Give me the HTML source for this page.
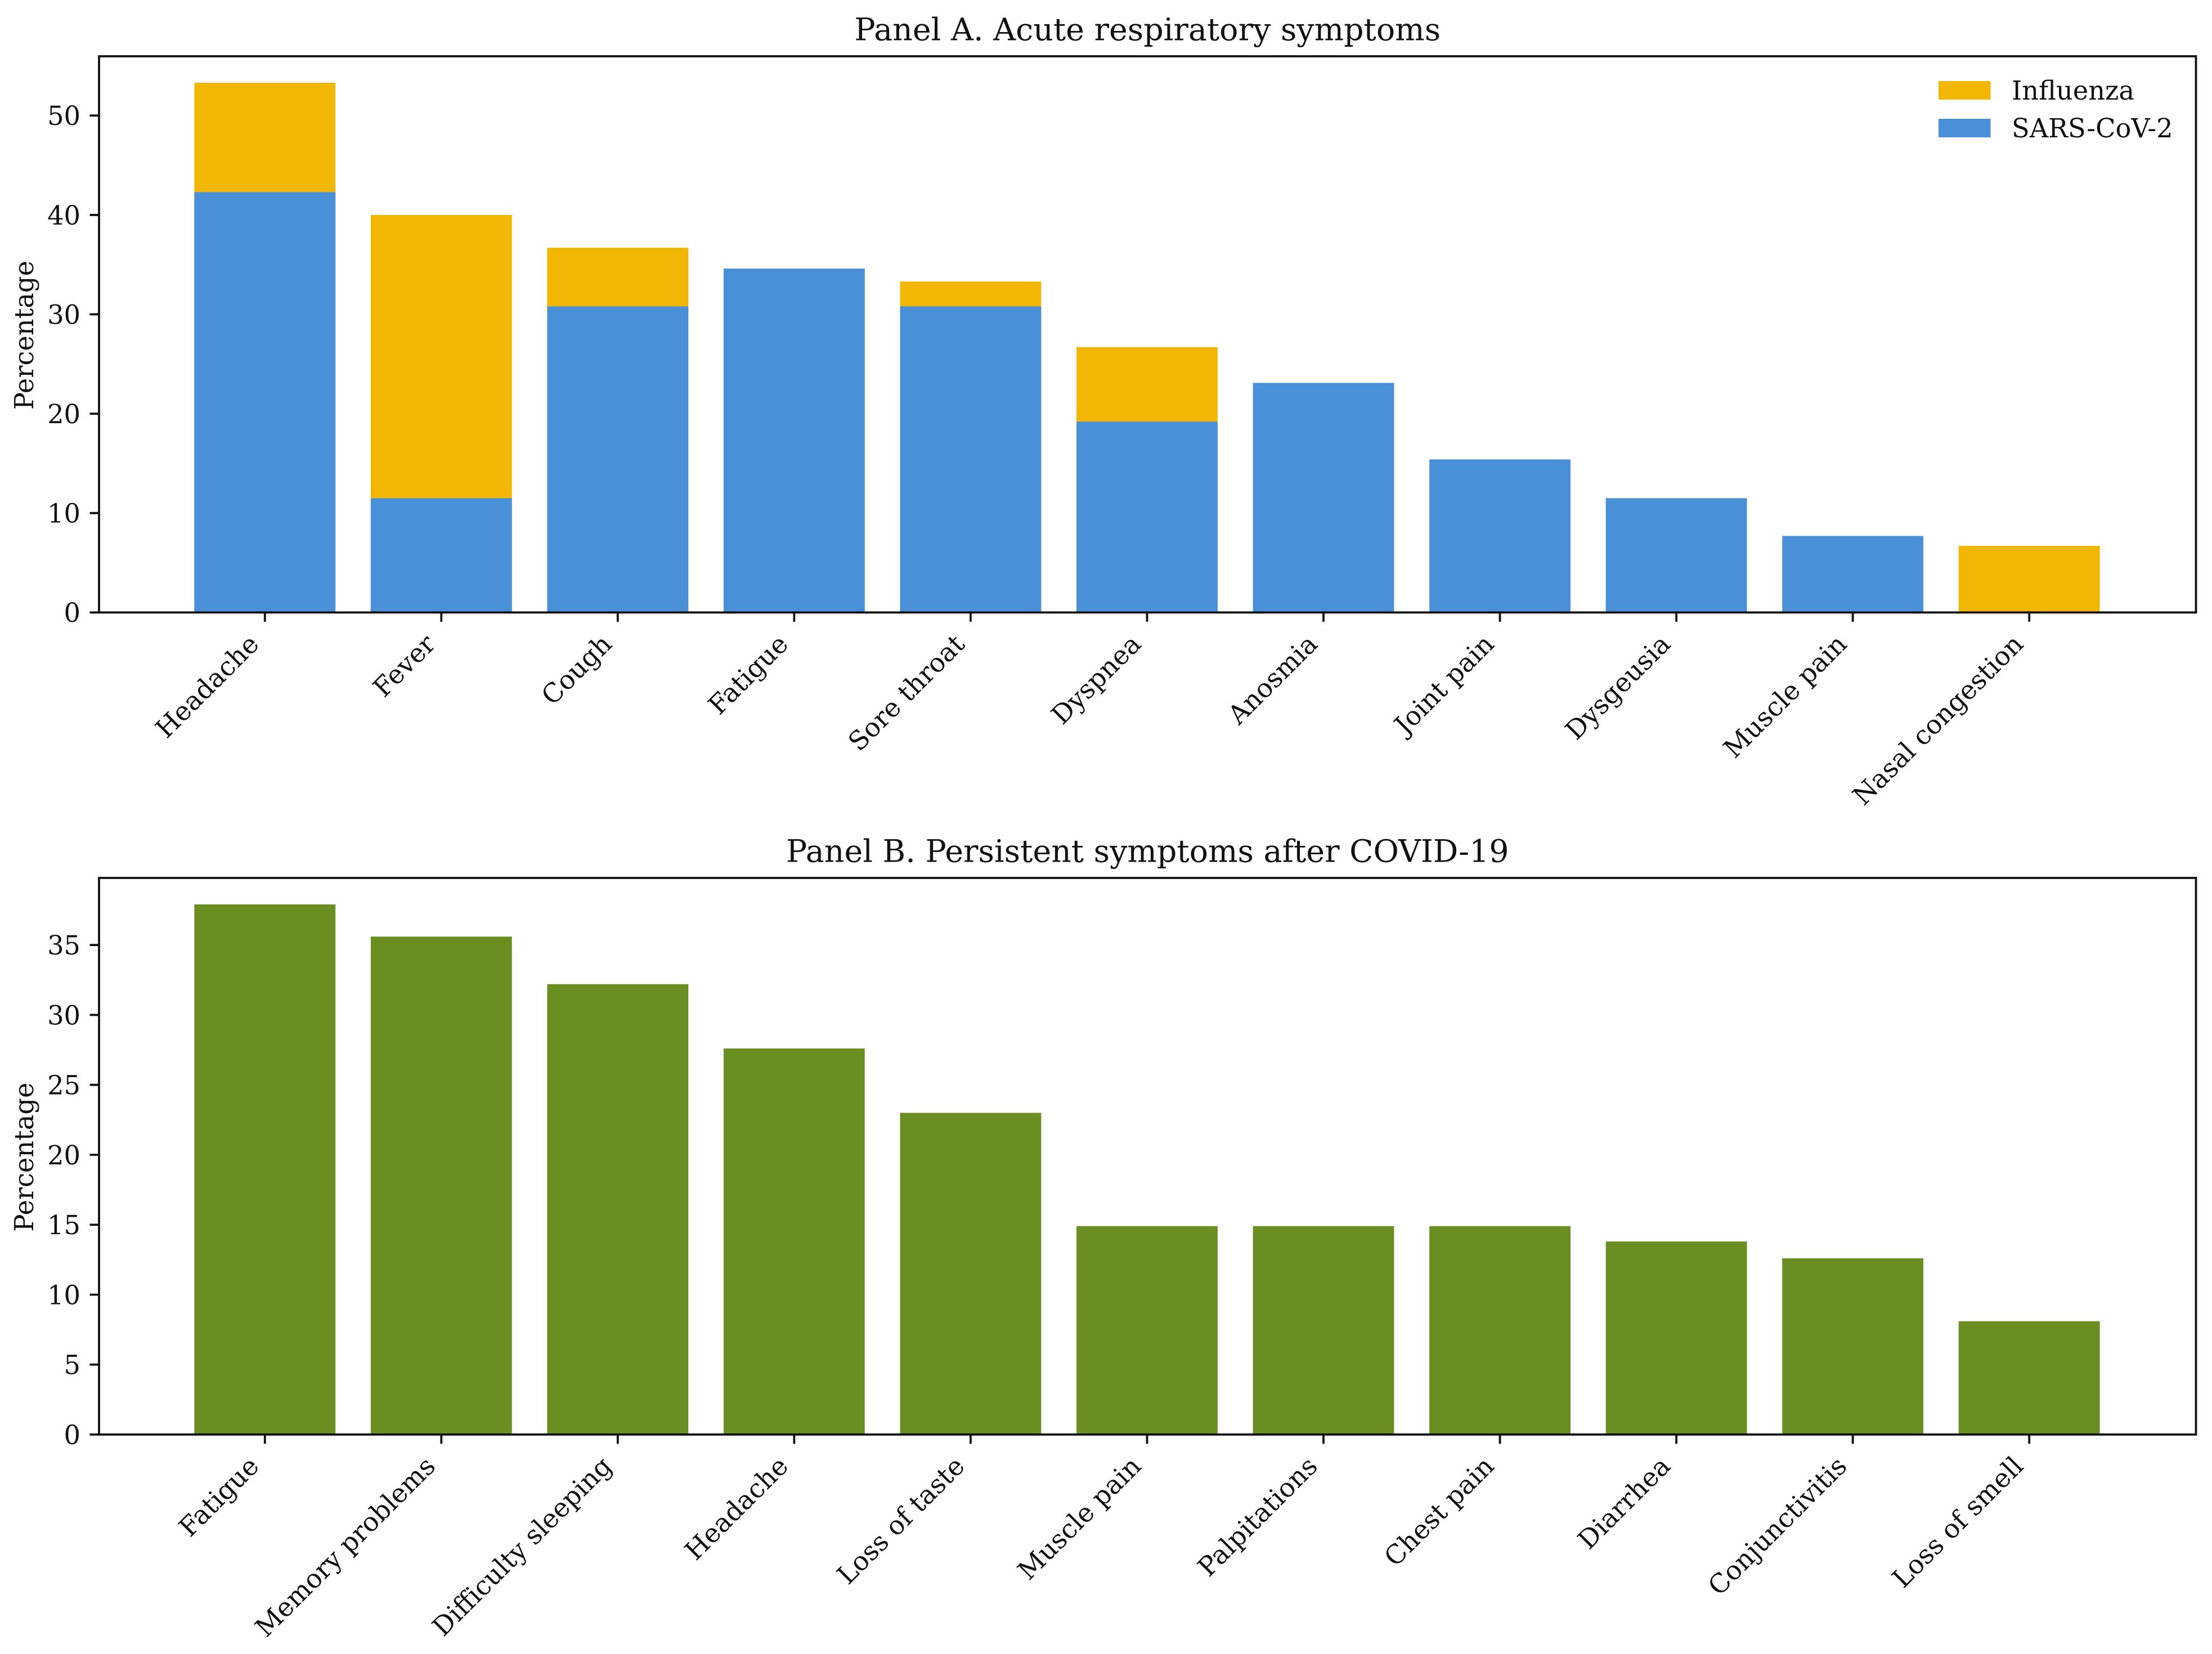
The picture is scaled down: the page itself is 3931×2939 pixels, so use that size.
<!DOCTYPE html>
<html lang="en">
<head>
<meta charset="utf-8">
<title>Symptoms chart</title>
<style>
html,body{margin:0;padding:0;background:#fff;}
svg{display:block;}
text{font-family:"DejaVu Serif","Liberation Serif",serif;fill:#111;}
</style>
</head>
<body>
<svg id="chart" xmlns="http://www.w3.org/2000/svg" width="3931" height="2939" viewBox="0 0 3931 2939">
  <rect x="0" y="0" width="3931" height="2939" fill="#ffffff"/>
  <g id="panelA"></g>
  <g id="panelB"></g>
</svg>
<script>
// ---- Panel A data ----
const categoriesA = ["Headache","Fever","Cough","Fatigue","Sore throat","Dyspnea","Anosmia","Joint pain","Dysgeusia","Muscle pain","Nasal congestion"];
const influenzaValues = [53.3,40.0,36.7,0,33.3,26.7,0,0,0,0,6.7];
const sarsValues = [42.3,11.5,30.8,34.6,30.8,19.2,23.1,15.4,11.5,7.7,0];
const yTicksA = [0,10,20,30,40,50];
const titleA = "Panel A. Acute respiratory symptoms";
// ---- Panel B data ----
const categoriesB = ["Fatigue","Memory problems","Difficulty sleeping","Headache","Loss of taste","Muscle pain","Palpitations","Chest pain","Diarrhea","Conjunctivitis","Loss of smell"];
const persistentValues = [37.9,35.6,32.2,27.6,23.0,14.9,14.9,14.9,13.8,12.6,8.1];
const yTicksB = [0,5,10,15,20,25,30,35];
const titleB = "Panel B. Persistent symptoms after COVID-19";
const yLabelText = "Percentage";
const legendLabels = ["Influenza","SARS-CoV-2"];

// ---- layout ----
const NS = "http://www.w3.org/2000/svg";
const AX_L = 176, AX_R = 3902.5;
const INK = "#111111";
const SPINE = 3.8, TICK_LEN = 16.5, TICK_PAD = 16.5;
const TICK_FONT = 46.3, TITLE_FONT = 55.4;
const BLUE = "#4A90D9", GOLD = "#F2B705", GREEN = "#6B8E23";
const frameA = {top:100, bottom:1088.3, yMax:55.965};
const frameB = {top:1560, bottom:2549, yMax:39.795};

function xScale(i){ return AX_L + (i + 0.94) * (AX_R - AX_L) / 11.885; }
const BAR_W = 0.8 * (AX_R - AX_L) / 11.885;
function yScale(frame, v){ return frame.bottom - (v / frame.yMax) * (frame.bottom - frame.top); }

function make(tag, parent){
  const el = document.createElementNS(NS, tag);
  parent.appendChild(el);
  return el;
}
function setAttrs(el, props){
  for (const k in props) el.setAttribute(k, props[k]);
}

function drawBars(parent, frame, values, color, prefix, cats){
  values.forEach(function(v, i){
    if (v <= 0) return;
    const r = make("rect", parent);
    
    
    const y = yScale(frame, v);
    setAttrs(r, {x: xScale(i) - BAR_W / 2, y: y, width: BAR_W, height: frame.bottom - y, fill: color});
  });
}

function drawAxes(parent, frame, cats, ticks, title){
  // y ticks
  ticks.forEach(function(t){
    const y = yScale(frame, t);
    const l = make("line", parent);
    
    
    setAttrs(l, {x1: AX_L - TICK_LEN, x2: AX_L, y1: y, y2: y, stroke: INK, "stroke-width": SPINE});
    const tx = make("text", parent);
    
    
    setAttrs(tx, {x: AX_L - TICK_LEN - TICK_PAD, y: y + TICK_FONT * 0.365, "text-anchor": "end", "font-size": TICK_FONT});
    tx.textContent = String(t);
  });
  // x ticks + rotated labels
  cats.forEach(function(c, i){
    const x = xScale(i);
    const l = make("line", parent);
    
    
    setAttrs(l, {x1: x, x2: x, y1: frame.bottom, y2: frame.bottom + TICK_LEN, stroke: INK, "stroke-width": SPINE});
    const tx = make("text", parent);
    
    
    const ax = x - 8, ay = frame.bottom + 59;
    setAttrs(tx, {x: ax, y: ay, "text-anchor": "end", "font-size": TICK_FONT, transform: "rotate(-45 " + ax + " " + ay + ")"});
    tx.textContent = c;
  });
  // spines
  const box = make("rect", parent);
  
  
  setAttrs(box, {x: AX_L, y: frame.top, width: AX_R - AX_L, height: frame.bottom - frame.top, fill: "none", stroke: INK, "stroke-width": SPINE});
  // title
  const tt = make("text", parent);
  
  
  setAttrs(tt, {x: (AX_L + AX_R) / 2, y: frame.top - 28.5, "text-anchor": "middle", "font-size": TITLE_FONT});
  tt.textContent = title;
  // y label
  const yc = (frame.top + frame.bottom) / 2 + 1.5;
  const yl = make("text", parent);
  
  
  setAttrs(yl, {x: 59, y: yc, "text-anchor": "middle", "font-size": TICK_FONT, transform: "rotate(-90 59 " + yc + ")"});
  yl.textContent = yLabelText;
}

const gA = document.getElementById("panelA");
const gB = document.getElementById("panelB");

drawBars(gA, frameA, influenzaValues, GOLD, 'influenza', categoriesA);
drawBars(gA, frameA, sarsValues, BLUE, 'sars-cov-2', categoriesA);
drawAxes(gA, frameA, categoriesA, yTicksA, titleA);

drawBars(gB, frameB, persistentValues, GREEN, 'persistent', categoriesB);
drawAxes(gB, frameB, categoriesB, yTicksB, titleB);

// legend
const legendColors = [GOLD, BLUE];
legendLabels.forEach(function(label, i){
  const top = 144 + i * 67;
  const sw = make("rect", gA);
  
  
  setAttrs(sw, {x: 3445, y: top, width: 92.5, height: 33, fill: legendColors[i]});
  const tx = make("text", gA);
  
  
  setAttrs(tx, {x: 3575, y: top + 33, "font-size": TICK_FONT});
  tx.textContent = label;
});
</script>
</body>
</html>
